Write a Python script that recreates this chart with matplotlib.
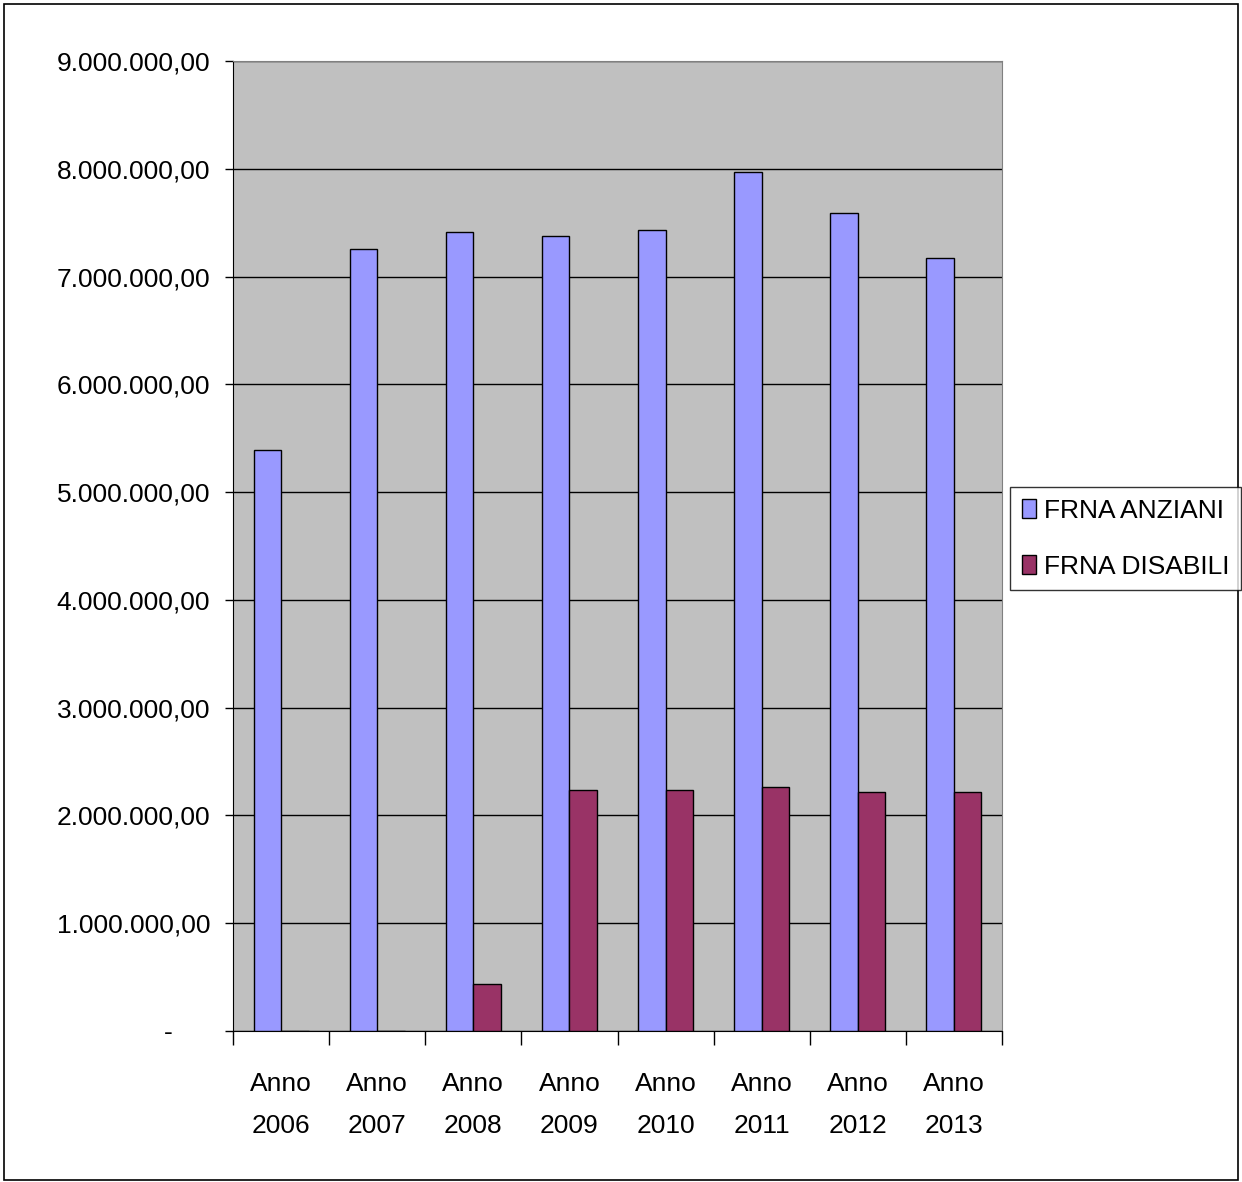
import numpy as np
import matplotlib
matplotlib.use('Agg')
import matplotlib.pyplot as plt
from matplotlib.ticker import FuncFormatter, FixedLocator
from matplotlib.patches import Rectangle

categories = ['Anno\n2006', 'Anno\n2007', 'Anno\n2008', 'Anno\n2009',
              'Anno\n2010', 'Anno\n2011', 'Anno\n2012', 'Anno\n2013']
anziani = [5390000, 7260000, 7410000, 7380000, 7430000, 7970000, 7590000, 7170000]
disabili = [0, 0, 433000, 2240000, 2240000, 2260000, 2220000, 2220000]
y_ticks = [0, 1000000, 2000000, 3000000, 4000000, 5000000,
           6000000, 7000000, 8000000, 9000000]

plt.rcParams['font.family'] = ['Liberation Sans', 'DejaVu Sans']
FS = 19

def fmt_it(v, pos):
    if v == 0:
        return '-     '
    s = '{:,.2f}'.format(v)
    return s.replace(',', 'X').replace('.', ',').replace('X', '.')

fig = plt.figure(figsize=(12.42, 11.82), dpi=100)
ax = fig.add_axes([0.1876, 0.1278, 0.8068 - 0.1876, 0.9484 - 0.1278])
ax.set_facecolor('#C0C0C0')

x = np.arange(len(categories))
w = 0.286
ax.bar(x - w / 2, anziani, w, color='#9999FF', edgecolor='#000000',
       linewidth=1, label='FRNA ANZIANI', zorder=3)
ax.bar(x + w / 2, disabili, w, color='#993366', edgecolor='#000000',
       linewidth=1, label='FRNA DISABILI', zorder=3)

ax.set_xlim(-0.5, len(categories) - 0.5)
ax.set_ylim(0, 9000000)
ax.yaxis.set_major_locator(FixedLocator(y_ticks))
ax.yaxis.set_major_formatter(FuncFormatter(fmt_it))
ax.grid(axis='y', color='#000000', linewidth=1, zorder=1)
ax.set_axisbelow(True)

# category boundaries as ticks, labels at centres
ax.set_xticks(np.arange(len(categories) + 1) - 0.5)
ax.set_xticklabels([])
ax.set_xticks(x, minor=True)
ax.set_xticklabels(categories, minor=True, fontsize=FS, linespacing=1.95)
ax.tick_params(axis='x', which='minor', length=0, pad=29.5)
ax.tick_params(axis='x', which='major', length=10, width=1, direction='out')
ax.tick_params(axis='y', length=6, width=1, direction='out', labelsize=FS, pad=10.5)

ax.spines['left'].set_color('#000000')
ax.spines['bottom'].set_color('#000000')
ax.spines['top'].set_color('#808080')
ax.spines['right'].set_color('#808080')

leg = fig.legend(loc='upper left', bbox_to_anchor=(0.813, 0.588),
                 fontsize=FS, frameon=True, fancybox=False, edgecolor='#000000',
                 handlelength=0.55, handleheight=0.7, handletextpad=0.3,
                 labelspacing=1.2, borderpad=0.45, borderaxespad=0)
leg.get_frame().set_linewidth(1)

fig.patches.append(Rectangle((0.003, 0.002), 0.994, 0.995, transform=fig.transFigure,
                             fill=False, edgecolor='#000000', linewidth=1.2))

plt.savefig('out.png', dpi=100)
print("done")
